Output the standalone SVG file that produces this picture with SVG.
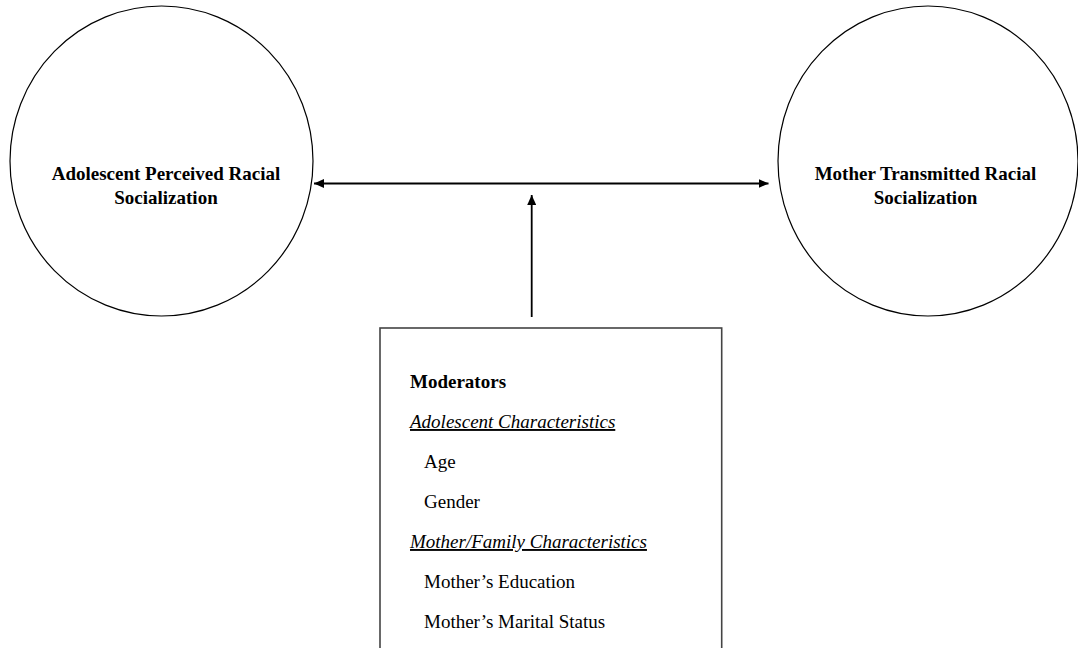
<svg xmlns="http://www.w3.org/2000/svg" width="1078" height="648" viewBox="0 0 1078 648">
<style>
.node{fill:#fff;stroke:#000;stroke-width:1.2}
.box{fill:#fff;stroke:#444;stroke-width:1.6}
.t{font-family:"Liberation Serif","Times New Roman",serif;font-size:19px;fill:#000}
.b{font-weight:bold;text-anchor:middle}
.i{font-style:italic;text-decoration:underline}
.conn{stroke:#000;stroke-width:1.8;fill:none}
</style>
<defs>
<marker id="ah" viewBox="0 0 10 9" refX="10" refY="4.5" markerWidth="10" markerHeight="9" markerUnits="userSpaceOnUse" orient="auto-start-reverse">
<path d="M0,0 L10,4.5 L0,9 Z" fill="#000"/>
</marker>
</defs>
<rect width="1078" height="648" fill="#fff"/>
<g id="node-adolescent">
<ellipse class="node" cx="161.5" cy="161" rx="151.5" ry="155"/>
<text class="t b" x="166" y="180">Adolescent Perceived Racial</text>
<text class="t b" x="166" y="204">Socialization</text>
</g>
<g id="node-mother">
<ellipse class="node" cx="928" cy="161" rx="150" ry="155"/>
<text class="t b" x="925.5" y="180">Mother Transmitted Racial</text>
<text class="t b" x="925.5" y="204">Socialization</text>
</g>
<g id="node-moderators">
<rect class="box" x="380" y="328" width="341.7" height="340"/>
<text class="t" x="410" y="388" font-weight="bold">Moderators</text>
<text class="t i" x="410" y="428">Adolescent Characteristics</text>
<text class="t" x="424" y="468">Age</text>
<text class="t" x="424" y="508">Gender</text>
<text class="t i" x="410" y="548">Mother/Family Characteristics</text>
<text class="t" x="424" y="588">Mother’s Education</text>
<text class="t" x="424" y="628">Mother’s Marital Status</text>
</g>
<g id="connectors">
<line class="conn" x1="314" y1="183.5" x2="768.5" y2="183.5" marker-start="url(#ah)" marker-end="url(#ah)"/>
<line class="conn" x1="531.7" y1="317" x2="531.7" y2="195" marker-end="url(#ah)"/>
</g>
</svg>
